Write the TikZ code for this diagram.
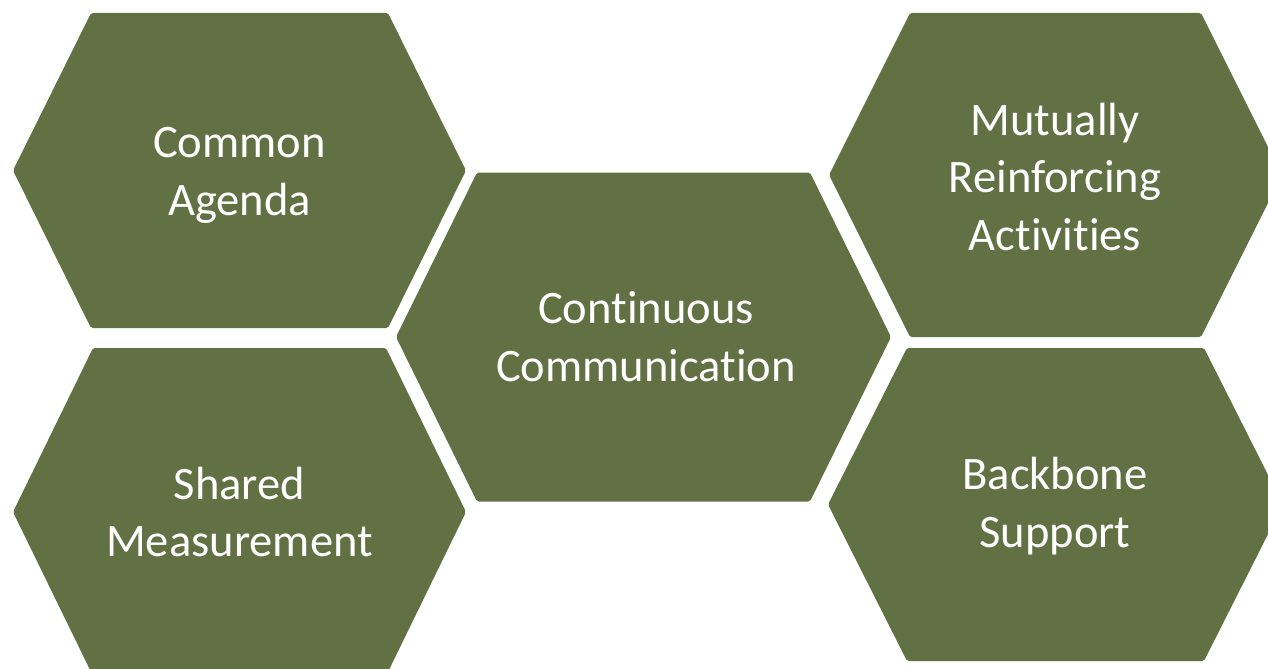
\documentclass[tikz,border=0pt]{standalone}
\usepackage{fontspec}
\setmainfont[Ligatures=NoCommon]{Carlito}
\definecolor{olivehex}{RGB}{98,113,68}
\tikzset{
  hexfill/.style={fill=olivehex, rounded corners=1pt},
  hexlabel/.style={text=white, align=center, font=\fontsize{26.5}{33}\selectfont},
}
\begin{document}
\begin{tikzpicture}[x=0.02cm,y=-0.02cm]
%\draw[step=50,gray,very thin] (0,0) grid (1268,669); %bckgr grid
\useasboundingbox (0,0) rectangle (1268,669);
\clip (0,0) rectangle (1268,669);

% hexagons
\fill[hexfill] (13,170.5) -- (91,13) -- (388,13) -- (466,170.5) -- (388,328) -- (91,328) -- cycle;
\fill[hexfill] (13,512) -- (93,348) -- (386,348) -- (466,512) -- (386,676) -- (93,676) -- cycle;
\fill[hexfill] (396,337) -- (477,172.5) -- (810,172.5) -- (891,337) -- (810,501.5) -- (477,501.5) -- cycle;
\fill[hexfill] (829,175) -- (910,13) -- (1201,13) -- (1282,175) -- (1201,337) -- (910,337) -- cycle;
\fill[hexfill] (828,504.5) -- (907,348) -- (1204,348) -- (1283,504.5) -- (1204,661) -- (907,661) -- cycle;

% labels
\node[hexlabel] (ca)  at (239.5,175) {Common\\Agenda};
\node[hexlabel] (sm)  at (239.5,512) {Shared\\Measurement};
\node[hexlabel] (cc)  at (646,337)   {Continuous\\Communication};
\node[hexlabel] (mra) at (1055,177)  {Mutually\\Reinforcing\\Activities};
\node[hexlabel] (bs)  at (1055,506)  {Backbone\\Support};

\end{tikzpicture}
\end{document}
